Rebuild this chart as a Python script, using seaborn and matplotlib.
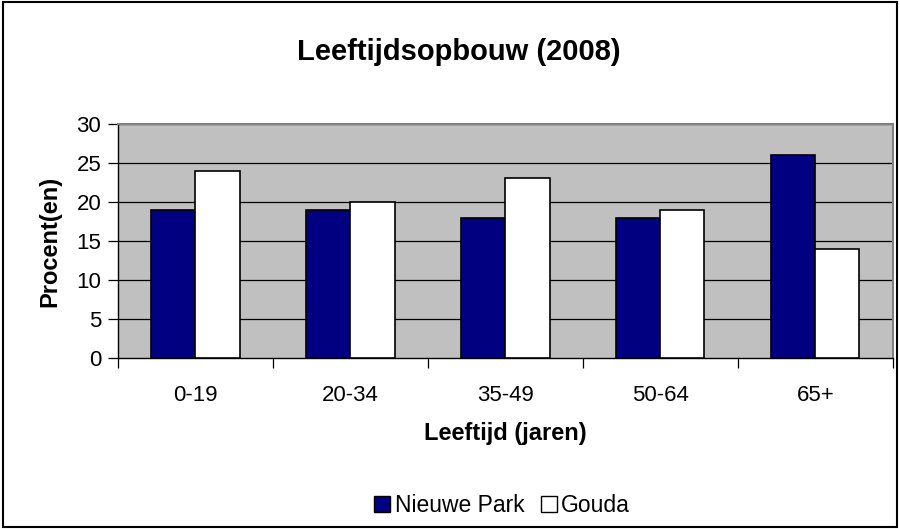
import matplotlib
matplotlib.use("Agg")
import matplotlib.pyplot as plt
import seaborn as sns
import pandas as pd
from matplotlib.patches import Patch, Rectangle

categories = ["0-19", "20-34", "35-49", "50-64", "65+"]
nieuwe_park = [19, 19, 18, 18, 26]
gouda = [24, 20, 23, 19, 14]
series = ["Nieuwe Park", "Gouda"]
yticks = [0, 5, 10, 15, 20, 25, 30]

df = pd.DataFrame({
    "cat": categories * 2,
    "val": nieuwe_park + gouda,
    "serie": [series[0]] * len(categories) + [series[1]] * len(categories),
})

sns.set_theme(style="white")
plt.rcParams["font.family"] = ["Liberation Sans", "DejaVu Sans"]
plt.rcParams["text.color"] = "black"
plt.rcParams["axes.labelcolor"] = "black"
plt.rcParams["xtick.color"] = "black"
plt.rcParams["ytick.color"] = "black"

fig = plt.figure(figsize=(9, 5.29), dpi=100)
ax = fig.add_axes([0.131, 0.323, 0.861, 0.443])
ax.set_facecolor("#C0C0C0")

colors = {"Nieuwe Park": "#000080", "Gouda": "#FFFFFF"}
sns.barplot(data=df, x="cat", y="val", hue="serie", order=categories,
            hue_order=series, palette=colors, width=0.57, edgecolor="black",
            linewidth=1.2, ax=ax, legend=False, saturation=1, zorder=3)

ax.set_ylim(0, 30)
ax.set_xlim(-0.5, len(categories) - 0.5)
ax.set_yticks(yticks)
ax.set_yticklabels([str(t) for t in yticks], fontsize=16)
for t in yticks[1:]:
    ax.axhline(t, color="black", lw=0.9, zorder=1)

ax.set_xticks(range(len(categories)))
ax.set_xticklabels(categories, fontsize=16)
ax.set_xticks([i - 0.5 for i in range(len(categories) + 1)], minor=True)
ax.tick_params(axis="x", which="major", length=0, pad=19)
ax.tick_params(axis="x", which="minor", length=7, width=0.9, color="black", direction="out", bottom=True)
ax.tick_params(axis="y", length=7, width=0.9, color="black", direction="out", left=True, pad=5)

for s in ["left", "bottom"]:
    ax.spines[s].set_color("black")
    ax.spines[s].set_linewidth(1.0)
for s in ["top", "right"]:
    ax.spines[s].set_color("#808080")
    ax.spines[s].set_linewidth(1.5)

ax.set_xlabel("Leeftijd (jaren)", fontsize=17, fontweight="bold", labelpad=12)
ax.set_ylabel("Procent(en)", fontsize=17, fontweight="bold", labelpad=11)

fig.text(0.510, 0.902, "Leeftijdsopbouw (2008)", ha="center", va="center",
         fontsize=21, fontweight="bold")

handles = [Patch(facecolor=colors[s], edgecolor="black", linewidth=1.0, label=s) for s in series]
fig.legend(handles=handles, loc="center", bbox_to_anchor=(0.558, 0.045), ncol=2,
           frameon=False, fontsize=16.5, handlelength=0.7, handleheight=0.7,
           handletextpad=0.2, columnspacing=0.7)

fig.patches.append(Rectangle((0.003, 0.004), 0.994, 0.992, transform=fig.transFigure,
                             fill=False, edgecolor="black", linewidth=1.5))

fig.savefig("out.png", dpi=100)
